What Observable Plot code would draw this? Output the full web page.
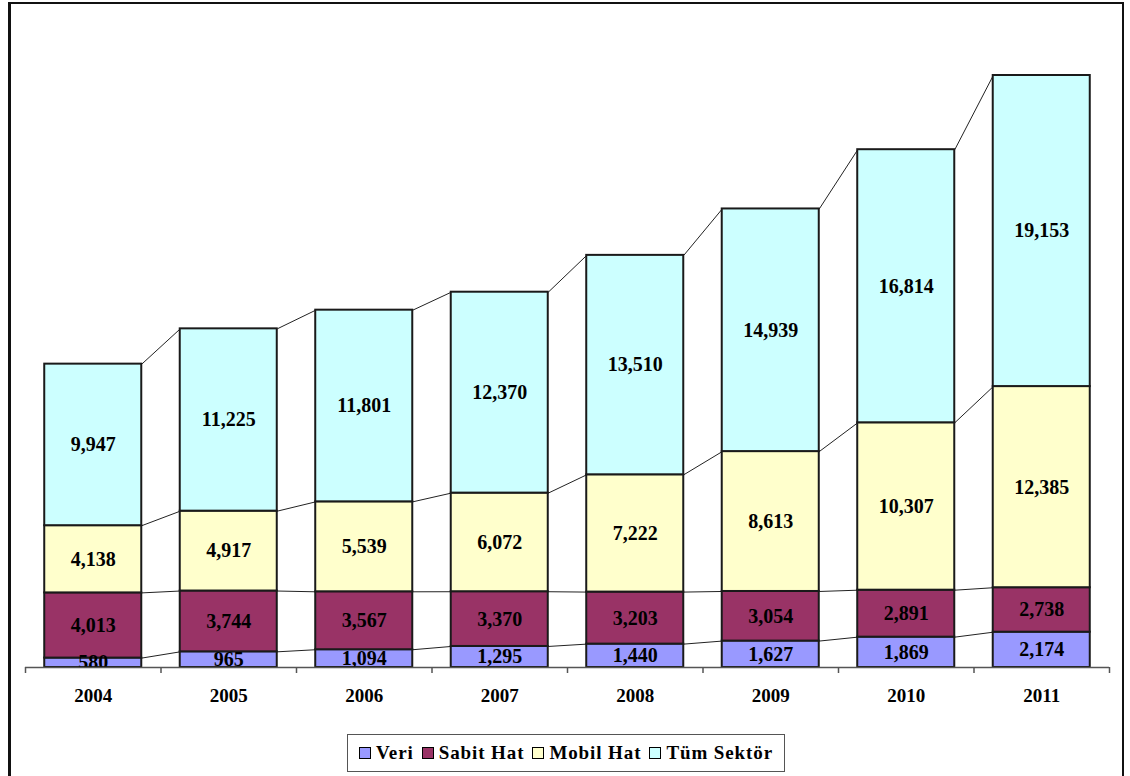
<!DOCTYPE html>
<html>
<head>
<meta charset="utf-8">
<script src="https://cdn.jsdelivr.net/npm/d3@7"></script>
<script src="https://cdn.jsdelivr.net/npm/@observablehq/plot@0.6"></script>
<style>
  html, body { margin: 0; padding: 0; background: #fff; width: 1130px; height: 776px; overflow: hidden; }
  #frame { position: absolute; left: 8px; top: 2px; width: 1116px; height: 800px; border: 2px solid #111; border-left-width: 3px; box-sizing: border-box; }
  #chart { position: absolute; left: 0; top: 0; }
  #legend { position: absolute; left: 347px; top: 734px; width: 438px; height: 38px; box-sizing: border-box;
    border: 1px solid #555; background: #fff; display: flex; align-items: center; justify-content: center; gap: 8px;
    font-family: "Liberation Serif", "Times New Roman", serif; font-weight: bold; font-size: 19px; letter-spacing: 0.9px; }
  .item { display: flex; align-items: center; gap: 5px; }
  .sw { width: 10px; height: 10px; border: 1.5px solid #000; display: inline-block; }
</style>
</head>
<body>
<div id="frame"></div>
<div id="chart"></div>
<div id="legend"></div>
<script>
const years = ["2004","2005","2006","2007","2008","2009","2010","2011"];
const seriesNames = ["Veri","Sabit Hat","Mobil Hat","Tüm Sektör"];
const veri = [580, 965, 1094, 1295, 1440, 1627, 1869, 2174];
const sabitHat = [4013, 3744, 3567, 3370, 3203, 3054, 2891, 2738];
const mobilHat = [4138, 4917, 5539, 6072, 7222, 8613, 10307, 12385];
const tumSektor = [9947, 11225, 11801, 12370, 13510, 14939, 16814, 19153];
const colors = ["#9999FF", "#993366", "#FFFFCC", "#CCFFFF"];

const seriesValues = [veri, sabitHat, mobilHat, tumSektor];
const half = 0.358;

// stacked segments
const segs = [];
years.forEach((yr, i) => {
  let acc = 0;
  seriesValues.forEach((vals, s) => {
    const v = vals[i];
    segs.push({i, year: yr, series: seriesNames[s], value: v, y1: acc, y2: acc + v});
    acc += v;
  });
});

// series lines between bars (top of each segment)
const links = [];
for (let s = 0; s < seriesNames.length; s++) {
  for (let i = 0; i < years.length - 1; i++) {
    const a = segs.find(d => d.i === i && d.series === seriesNames[s]);
    const b = segs.find(d => d.i === i + 1 && d.series === seriesNames[s]);
    links.push({x1: i + half, x2: i + 1 - half, y1: a.y2, y2: b.y2});
  }
}

const total = d3.max(years.map((_, i) => seriesValues.reduce((t, v) => t + v[i], 0)));
const font = "'Liberation Serif', 'Times New Roman', serif";

const plot = Plot.plot({
  width: 1130,
  height: 720,
  marginLeft: 25,
  marginRight: 21,
  marginTop: 75,
  marginBottom: 53,
  style: {fontFamily: font, background: "transparent", overflow: "visible"},
  x: {domain: [-0.5, years.length - 0.5], axis: null},
  y: {domain: [0, total], axis: null},
  color: {domain: seriesNames, range: colors},
  marks: [
    Plot.link(links, {x1: "x1", x2: "x2", y1: "y1", y2: "y2", stroke: "#222", strokeWidth: 1}),
    Plot.rect(segs, {x1: d => d.i - half, x2: d => d.i + half, y1: "y1", y2: "y2", fill: "series", stroke: "#1a1a1a", strokeWidth: 2}),
    Plot.text(segs, {x: "i", y: d => (d.y1 + d.y2) / 2, text: d => d3.format(",")(d.value), fontSize: 20, fontWeight: "bold", fill: "#000", clip: true}),
    Plot.ruleY([0], {stroke: "#555", strokeWidth: 1.5}),
    Plot.axisX(d3.range(-0.5, years.length, 1), {tickSize: 6, tickFormat: () => "", stroke: "#555", strokeWidth: 1.5}),
    Plot.axisX(d3.range(years.length), {tickSize: 0, tickPadding: 21, tickFormat: i => years[i], fontSize: 19, fontWeight: "bold", fill: "#000"})
  ]
});
document.getElementById("chart").appendChild(plot);

const legend = document.getElementById("legend");
seriesNames.forEach((name, s) => {
  const it = document.createElement("span");
  it.className = "item";
  const sw = document.createElement("span");
  sw.className = "sw";
  sw.style.background = colors[s];
  const tx = document.createElement("span");
  tx.textContent = name;
  it.appendChild(sw);
  it.appendChild(tx);
  legend.appendChild(it);
});
</script>
</body>
</html>
